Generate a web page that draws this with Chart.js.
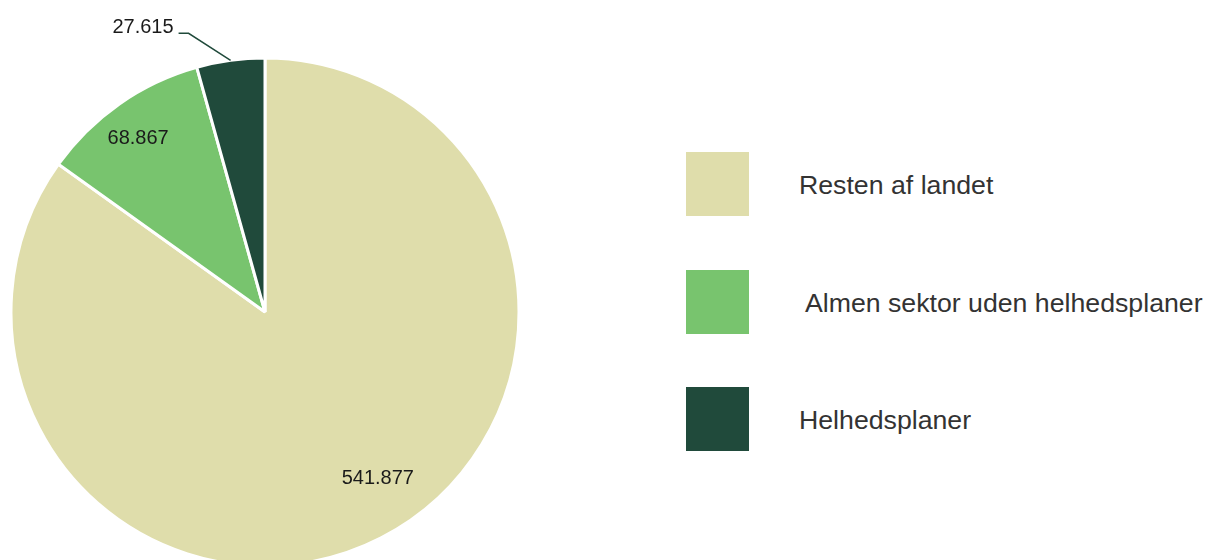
<!DOCTYPE html>
<html>
<head>
<meta charset="utf-8">
<script src="https://cdn.jsdelivr.net/npm/chart.js@4/dist/chart.umd.min.js"></script>
<style>
  body { margin: 0; width: 1205px; height: 560px; overflow: hidden; background: #fff; position: relative; font-family: 'Liberation Sans', Arial, sans-serif; }
  #wrap { position: absolute; left: 0; top: 0; width: 640px; height: 560px; }
  .item { position: absolute; left: 686px; height: 64px; }
  .box { position: absolute; left: 0; top: 0; width: 63px; height: 64px; }
  .txt { position: absolute; left: 113px; top: 1px; line-height: 64px; font-size: 26.7px; color: #333; white-space: pre; }
</style>
</head>
<body>
<div id="wrap"><canvas id="chart"></canvas></div>
<div id="legend"></div>
<script>
const categories = ['Resten af landet', ' Almen sektor uden helhedsplaner', 'Helhedsplaner'];
const values = [541877, 68867, 27615];
const colors = ['#dfddab', '#78c46e', '#204a3b'];

// danish thousands separator
function fmt(v) {
    return String(v).replace(/\B(?=(\d{3})+(?!\d))/g, '.');
}

// legend as html
const legend = document.getElementById('legend');
categories.forEach((c, i) => {
    const item = document.createElement('div');
    item.className = 'item';
    item.style.top = (152 + i * 117.5) + 'px';
    item.innerHTML = `<div class="box" style="background:${colors[i]}"></div><div class="txt">${c}</div>`;
    legend.appendChild(item);
});

// value labels, last one sits outside with a leader line
const valueLabels = {
    id: 'valueLabels',
    afterDatasetsDraw(chart, args, opts) {
        const ctx = chart.ctx;
        const meta = chart.getDatasetMeta(0);
        ctx.save();
        ctx.font = '20px "Liberation Sans", Arial, sans-serif';
        ctx.fillStyle = '#1a1a1a';
        meta.data.forEach((arc, i) => {
            const p = arc.getProps(['x', 'y', 'startAngle', 'endAngle', 'outerRadius'], true);
            const pos = opts.pos[i];
            const mid = (p.startAngle + p.endAngle) / 2;
            const text = fmt(values[i]);
            if (pos.outside) {
                const sx = p.x + Math.cos(mid) * p.outerRadius;
                const sy = p.y + Math.sin(mid) * p.outerRadius;
                const ex = sx - 42, ey = sy - 27;
                ctx.beginPath();
                ctx.moveTo(sx, sy);
                ctx.lineTo(ex, ey);
                ctx.lineTo(ex - 10, ey);
                ctx.strokeStyle = colors[i];
                ctx.lineWidth = 1.5;
                ctx.stroke();
                ctx.textAlign = 'right';
                ctx.textBaseline = 'alphabetic';
                ctx.fillText(text, ex - 15, ey);
            } else {
                const a = mid + pos.turn * Math.PI / 180;
                const r = p.outerRadius * pos.r;
                ctx.textAlign = 'center';
                ctx.textBaseline = 'middle';
                ctx.fillText(text, p.x + Math.cos(a) * r, p.y + Math.sin(a) * r + 1);
            }
        });
        ctx.restore();
    }
};

new Chart(document.getElementById('chart'), {
    type: 'pie',
    data: {
        labels: categories,
        datasets: [{
            data: values,
            backgroundColor: colors,
            borderColor: '#fff',
            borderWidth: 3,
            clip: false
        }]
    },
    options: {
        responsive: true,
        maintainAspectRatio: false,
        animation: false,
        radius: 254,
        layout: { padding: { left: 11, right: 121, top: 64, bottom: 0 } },
        plugins: {
            legend: { display: false },
            tooltip: { enabled: false },
            valueLabels: { pos: [{ r: 0.79, turn: -7 }, { r: 0.85, turn: -1 }, { outside: true }] }
        }
    },
    plugins: [valueLabels]
});
</script>
</body>
</html>
